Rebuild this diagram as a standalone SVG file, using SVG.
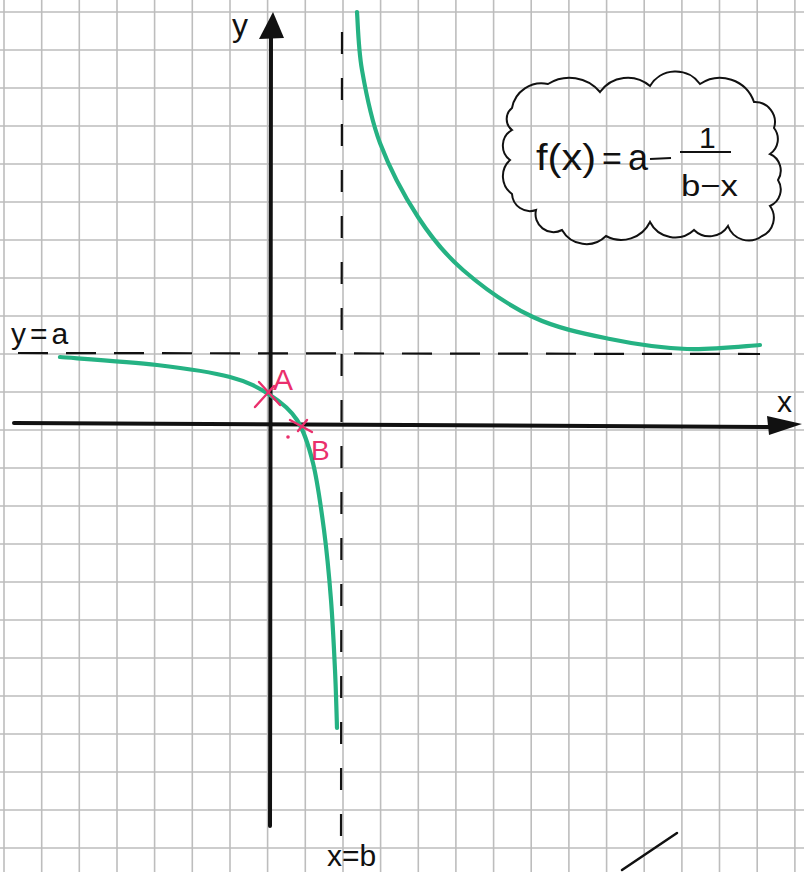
<svg xmlns="http://www.w3.org/2000/svg" width="804" height="872" viewBox="0 0 804 872">
<defs>
<style>
.grid line{stroke:#bdbdbd;stroke-width:1.6}
.axis{stroke:#111;stroke-width:4;stroke-linecap:round;fill:none}
.dash{stroke:#111;stroke-width:2.2;fill:none}
.curve{stroke:#25b283;stroke-width:4.2;fill:none;stroke-linecap:round;stroke-linejoin:round}
.pink{stroke:#ea2f6c;stroke-width:2.4;stroke-linecap:round}
.lbl{font-family:"Liberation Sans","DejaVu Sans",sans-serif;fill:#111}
.plbl{font-family:"Liberation Sans","DejaVu Sans",sans-serif;fill:#ea2f6c}
</style>
</defs>
<rect width="804" height="872" fill="#ffffff"/>
<g id="grid" class="grid">
<line x1="4" y1="0" x2="4" y2="872"/><line x1="41.7" y1="0" x2="41.7" y2="872"/><line x1="79.3" y1="0" x2="79.3" y2="872"/><line x1="117" y1="0" x2="117" y2="872"/><line x1="154.6" y1="0" x2="154.6" y2="872"/><line x1="192.3" y1="0" x2="192.3" y2="872"/><line x1="230" y1="0" x2="230" y2="872"/><line x1="267.6" y1="0" x2="267.6" y2="872"/><line x1="305.3" y1="0" x2="305.3" y2="872"/><line x1="343" y1="0" x2="343" y2="872"/><line x1="380.6" y1="0" x2="380.6" y2="872"/><line x1="418.3" y1="0" x2="418.3" y2="872"/><line x1="455.9" y1="0" x2="455.9" y2="872"/><line x1="493.6" y1="0" x2="493.6" y2="872"/><line x1="531.2" y1="0" x2="531.2" y2="872"/><line x1="568.9" y1="0" x2="568.9" y2="872"/><line x1="606.6" y1="0" x2="606.6" y2="872"/><line x1="644.2" y1="0" x2="644.2" y2="872"/><line x1="681.9" y1="0" x2="681.9" y2="872"/><line x1="719.5" y1="0" x2="719.5" y2="872"/><line x1="757.2" y1="0" x2="757.2" y2="872"/><line x1="794.9" y1="0" x2="794.9" y2="872"/>
<line x1="0" y1="12" x2="804" y2="12"/><line x1="0" y1="50" x2="804" y2="50"/><line x1="0" y1="88" x2="804" y2="88"/><line x1="0" y1="126" x2="804" y2="126"/><line x1="0" y1="164" x2="804" y2="164"/><line x1="0" y1="202" x2="804" y2="202"/><line x1="0" y1="240" x2="804" y2="240"/><line x1="0" y1="278" x2="804" y2="278"/><line x1="0" y1="316" x2="804" y2="316"/><line x1="0" y1="354" x2="804" y2="354"/><line x1="0" y1="392" x2="804" y2="392"/><line x1="0" y1="430" x2="804" y2="430"/><line x1="0" y1="468" x2="804" y2="468"/><line x1="0" y1="506" x2="804" y2="506"/><line x1="0" y1="544" x2="804" y2="544"/><line x1="0" y1="582" x2="804" y2="582"/><line x1="0" y1="620" x2="804" y2="620"/><line x1="0" y1="658" x2="804" y2="658"/><line x1="0" y1="696" x2="804" y2="696"/><line x1="0" y1="734" x2="804" y2="734"/><line x1="0" y1="772" x2="804" y2="772"/><line x1="0" y1="810" x2="804" y2="810"/><line x1="0" y1="848" x2="804" y2="848"/>
</g>
<g id="asymptotes">
<line class="dash" x1="18" y1="353" x2="760" y2="354" stroke-dasharray="30 18"/>
<line class="dash" x1="342" y1="32" x2="341" y2="842" stroke-dasharray="22 24"/>
</g>
<g id="axes">
<line class="axis" x1="14" y1="423" x2="785" y2="427"/>
<polygon points="767,416 802,424 769,435" fill="#111"/>
<line class="axis" x1="270" y1="826" x2="271" y2="30"/>
<polygon points="259,39 273,12 284,38" fill="#111"/>
<text class="lbl" x="777" y="412" font-size="30">x</text>
<text class="lbl" x="232" y="36" font-size="32">y</text>
</g>
<g id="curve-right">
<path class="curve" d="M357,12 C357.8,21.7 358.2,48.2 362,70 C365.8,91.8 370.7,118.5 380,143 C389.3,167.5 404.2,195.8 418,217 C431.8,238.2 443.8,253.3 463,270 C482.2,286.7 508.5,305.5 533,317 C557.5,328.5 584.3,333.7 610,339 C635.7,344.3 662,348 687,349 C712,350 747.8,345.7 760,345"/>
</g>
<g id="curve-left">
<path class="curve" d="M60,357 C76.2,358.3 128.7,361.7 157,365 C185.3,368.3 211.2,372 230,377 C248.8,382 258.8,387.8 270,395 C281.2,402.2 289.8,408.7 297,420 C304.2,431.3 308.5,444.7 313,463 C317.5,481.3 321,507.2 324,530 C327,552.8 329.2,576.7 331,600 C332.8,623.3 334,648.7 335,670 C336,691.3 336.7,718.3 337,728"/>
</g>
<g id="point-A">
<line class="pink" x1="259" y1="382" x2="280" y2="405"/>
<line class="pink" x1="255" y1="407" x2="274" y2="386"/>
<text class="plbl" x="273" y="390" font-size="30">A</text>
</g>
<g id="point-B">
<line class="pink" x1="290" y1="420" x2="312" y2="432"/>
<line class="pink" x1="298" y1="431" x2="307" y2="420"/>
<circle cx="288" cy="437" r="1.8" fill="#ea2f6c"/>
<text class="plbl" x="311" y="460" font-size="28">B</text>
</g>
<g id="label-ya">
<text class="lbl" x="11" y="344" font-size="30" letter-spacing="4">y=a</text>
</g>
<g id="label-xb">
<text class="lbl" x="327" y="866" font-size="30">x=b</text>
</g>
<g id="formula">
<path d="M512,108 A30,30 0 0 1 548,84 A40,40 0 0 1 600,92 A34,34 0 0 1 650,86 A30,30 0 0 1 700,84 A36,36 0 0 1 754,102 A20,20 0 0 1 774,128 A18,18 0 0 1 770,154 A18,18 0 0 1 778,180 A18,18 0 0 1 770,206 A20,20 0 0 1 762,236 A22,22 0 0 1 728,226 A22,22 0 0 1 694,230 A28,28 0 0 1 650,222 A32,32 0 0 1 606,236 A28,28 0 0 1 562,230 A18,18 0 0 1 536,210 A18,18 0 0 1 512,194 A22,22 0 0 1 510,160 A18,18 0 0 1 512,130 A14,14 0 0 1 512,108 Z" fill="none" stroke="#111" stroke-width="2"/>
<text class="lbl" x="536" y="170" font-size="36" textLength="60" lengthAdjust="spacingAndGlyphs">f(x)</text>
<text class="lbl" x="602" y="170" font-size="34">=</text>
<text class="lbl" x="628" y="170" font-size="36">a</text>
<line x1="650" y1="159" x2="671" y2="158" stroke="#111" stroke-width="2.2"/>
<line x1="680" y1="152" x2="731" y2="152" stroke="#111" stroke-width="2.2"/>
<text class="lbl" x="699" y="148" font-size="30">1</text>
<text class="lbl" x="681" y="196" font-size="30" textLength="57" lengthAdjust="spacingAndGlyphs">b−x</text>
</g>
<g id="stroke-mark">
<line x1="622" y1="870" x2="677" y2="833" stroke="#111" stroke-width="2.5" stroke-linecap="round"/>
</g>
</svg>
